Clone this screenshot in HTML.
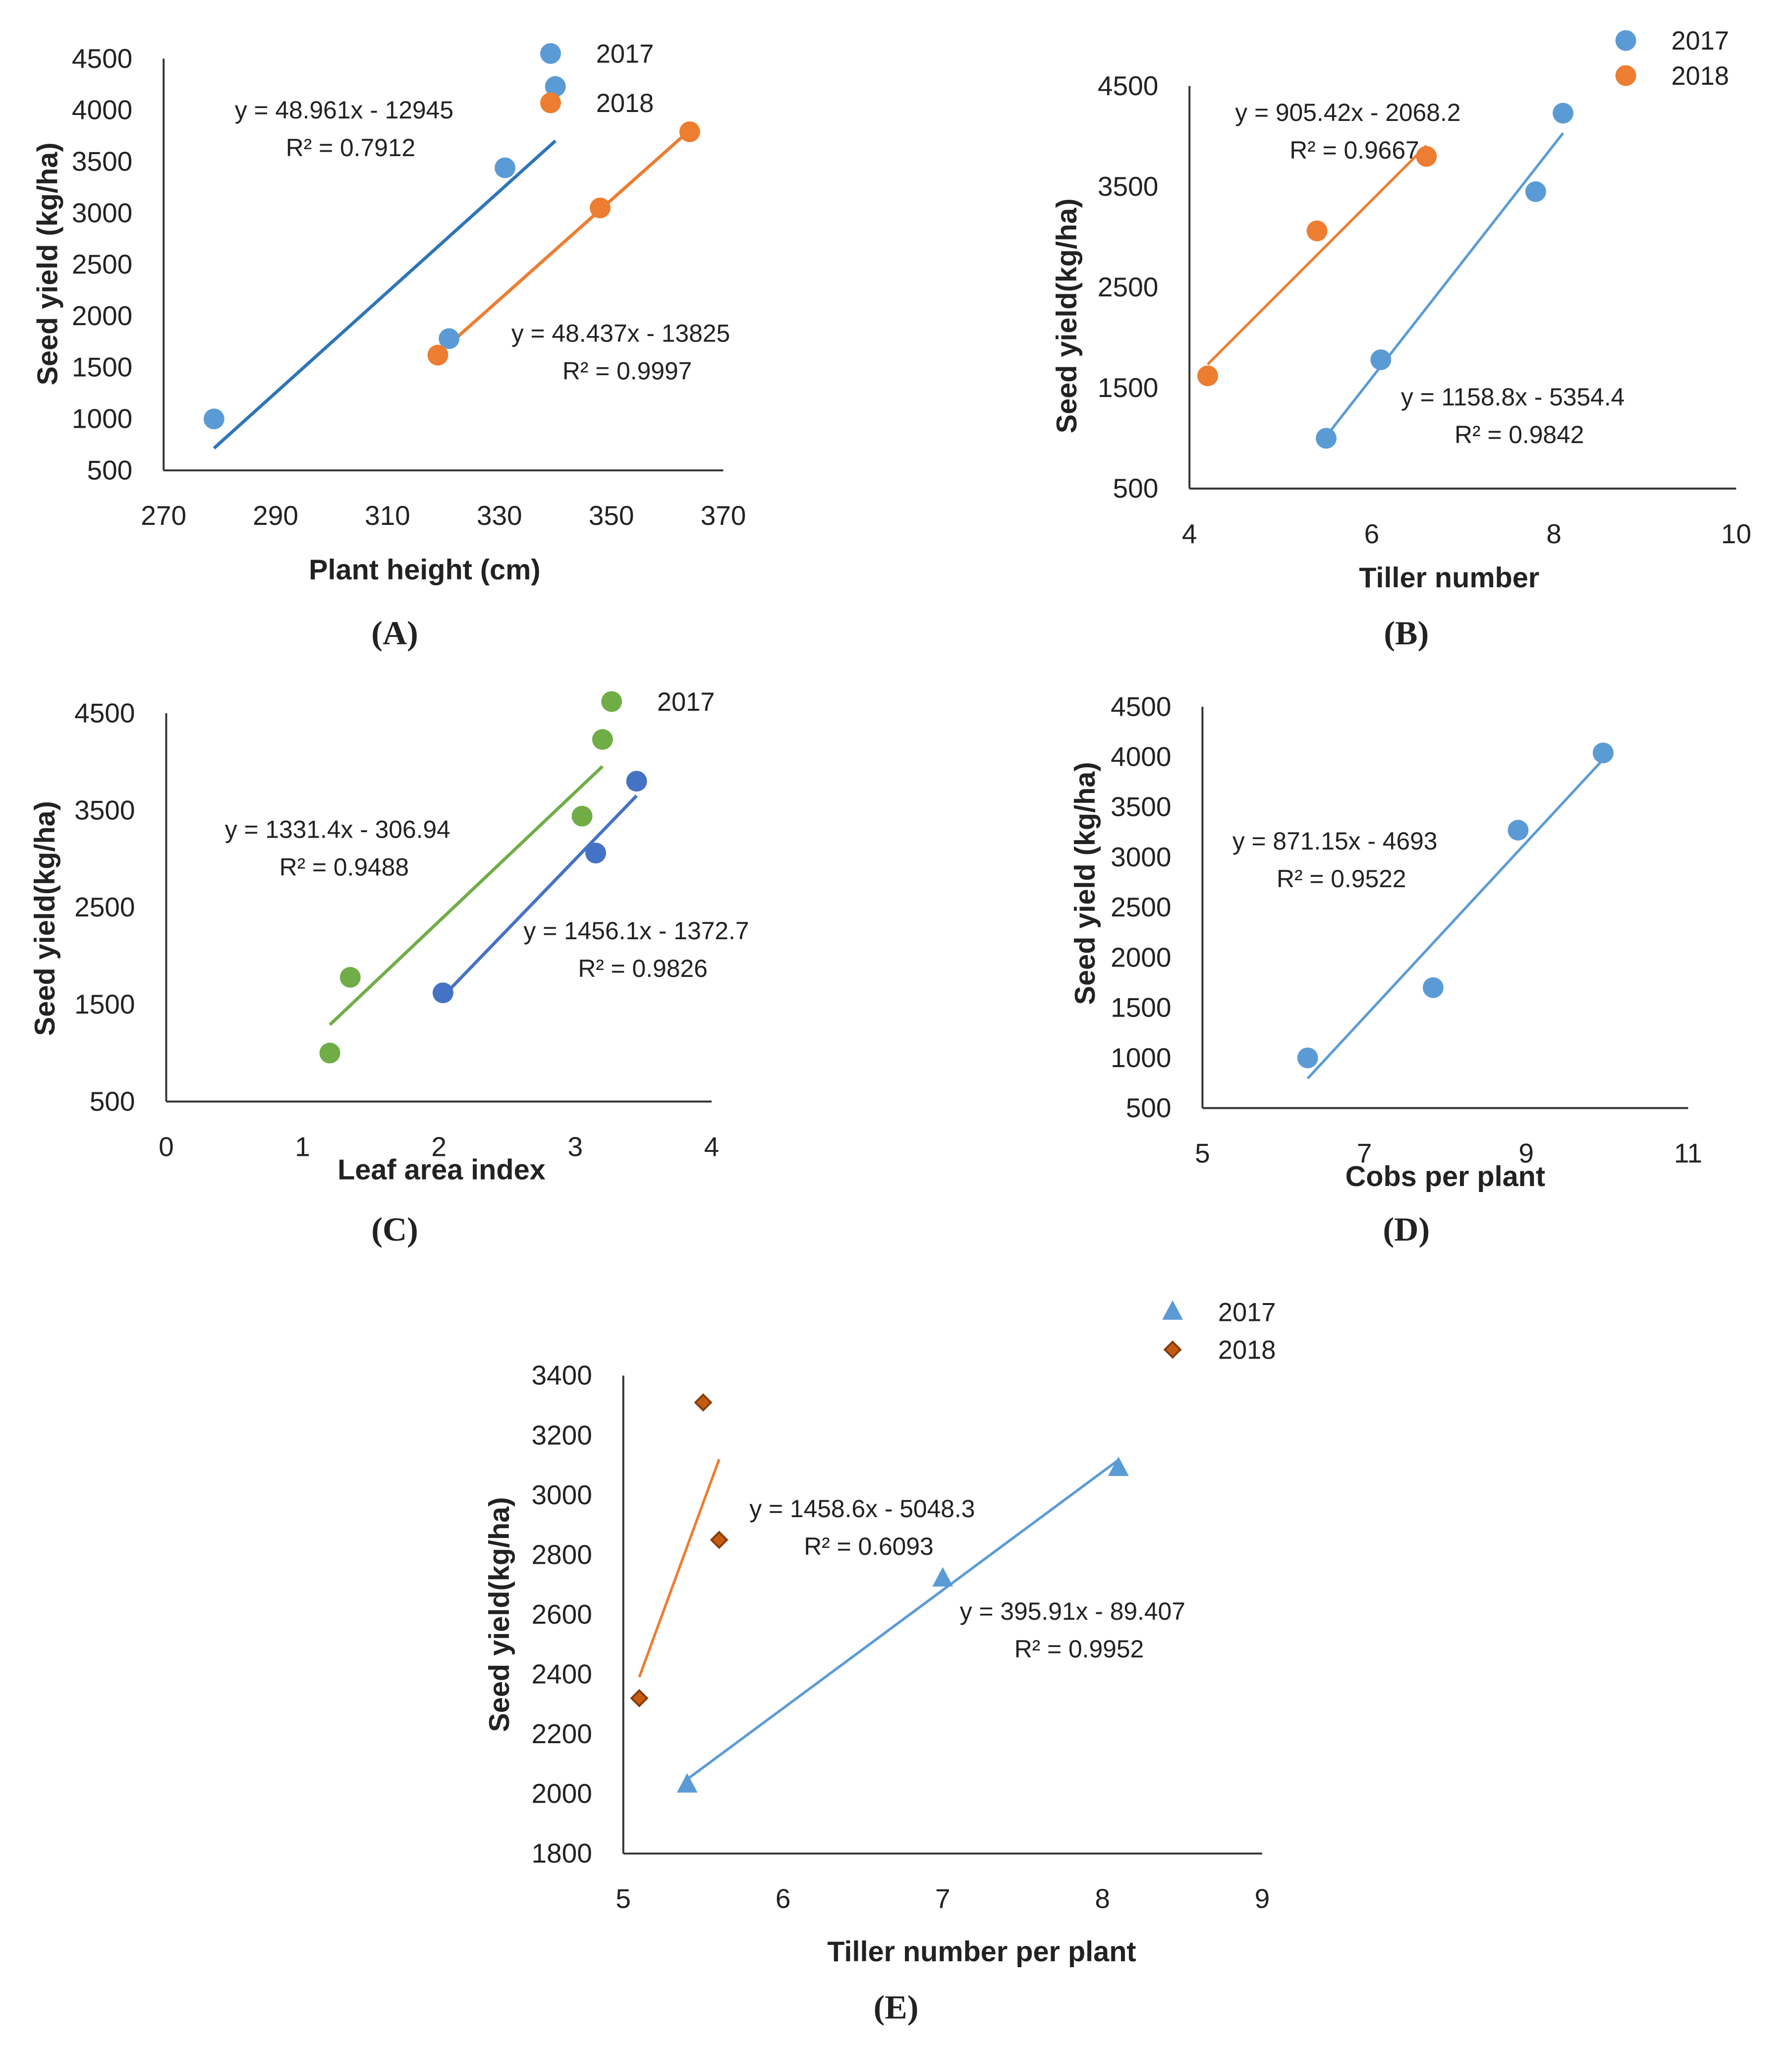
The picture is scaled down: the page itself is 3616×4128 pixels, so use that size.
<!DOCTYPE html>
<html><head><meta charset="utf-8"><style>
html,body{margin:0;padding:0;background:#fff}
svg{display:block}
text{font-family:"Liberation Sans",sans-serif;fill:#222}
</style></head><body>
<svg id="c" width="3616" height="4128" viewBox="0 0 1380 1575" xmlns="http://www.w3.org/2000/svg"></svg>
<script>
// Panel A data
const aX17=[279,321,331,340], aY17=[1000,1780,3440,4230];
const aX18=[319,348,364], aY18=[1620,3050,3790];
const aXTicks=[270,290,310,330,350,370], aYTicks=[500,1000,1500,2000,2500,3000,3500,4000,4500];
// Panel B data
const bX17=[5.5,6.1,7.8,8.1], bY17=[1000,1780,3450,4230];
const bX18=[4.2,5.4,6.6], bY18=[1620,3060,3800];
const bXTicks=[4,6,8,10], bYTicks=[500,1500,2500,3500,4500];
// Panel C data
const cX17=[1.2,1.35,3.05,3.2], cY17=[1000,1780,3440,4230];
const cX18=[2.03,3.15,3.45], cY18=[1620,3060,3800];
const cXTicks=[0,1,2,3,4], cYTicks=[500,1500,2500,3500,4500];
// Panel D data
const dX=[6.3,7.85,8.9,9.95], dY=[1000,1700,3270,4040];
const dXTicks=[5,7,9,11], dYTicks=[500,1000,1500,2000,2500,3000,3500,4000,4500];
// Panel E data
const eX17=[5.4,7.0,8.1], eY17=[2030,2720,3090];
const eX18=[5.1,5.6,5.5], eY18=[2320,2850,3310];
const eXTicks=[5,6,7,8,9], eYTicks=[1800,2000,2200,2400,2600,2800,3000,3200,3400];

const svg=document.getElementById('c');
const NS='http://www.w3.org/2000/svg';
function mk(tag,attrs,parent){const e=document.createElementNS(NS,tag);for(const k in attrs)e.setAttribute(k,attrs[k]);(parent||svg).appendChild(e);return e;}
function txt(s,x,y,opt,parent){const t=mk('text',{x:x,y:y,'font-size':opt.size||20,'text-anchor':opt.anchor||'middle','font-weight':opt.bold?'bold':'normal'},parent);
 if(opt.rot)t.setAttribute('transform','rotate(-90 '+x+' '+y+')');
 if(opt.serif)t.setAttribute('style','font-family:"Liberation Serif",serif');
 t.textContent=s;return t;}

function panel(id,box,xd,yd,xt,yt){
 const g=mk('g',{});
 
 
 const sx=v=>box.x0+(v-xd[0])/(xd[1]-xd[0])*(box.x1-box.x0);
 const sy=v=>box.y1-(v-yd[0])/(yd[1]-yd[0])*(box.y1-box.y0);
 const ya=mk('line',{x1:box.x0,y1:box.y0,x2:box.x0,y2:box.y1,stroke:'#333','stroke-width':1.5},g);
 
 
 const xa=mk('line',{x1:box.x0,y1:box.y1,x2:box.x1,y2:box.y1,stroke:'#333','stroke-width':1.5},g);
 
 
 xt.forEach(v=>{const t=txt(String(v),sx(v),box.y1+42,{size:21},g);
  
  });
 yt.forEach(v=>{const t=txt(String(v),box.x0-24,sy(v)+7,{size:21,anchor:'end'},g);
  
  });
 return {g,sx,sy};
}
function trend(p,xs,m,b,color,w){
 const x0=Math.min(...xs),x1=Math.max(...xs);
 const l=mk('line',{x1:p.sx(x0),y1:p.sy(m*x0+b),x2:p.sx(x1),y2:p.sy(m*x1+b),stroke:color,'stroke-width':w||2},p.g);
 
 
}
function marker(parent,shape,x,y,color){
 let e;
 if(shape==='circle')e=mk('circle',{cx:x,cy:y,r:8,fill:color},parent);
 else if(shape==='tri')e=mk('polygon',{points:(x)+','+(y-9)+' '+(x-8)+','+(y+6)+' '+(x+8)+','+(y+6),fill:color},parent);
 else e=mk('polygon',{points:x+','+(y-6)+' '+(x+6)+','+y+' '+x+','+(y+6)+' '+(x-6)+','+y,fill:'#c55a11',stroke:'#843c0c','stroke-width':1.5},parent);
 return e;
}
function points(p,xs,ys,shape,color){
 xs.forEach((v,i)=>{const e=marker(p.g,shape,p.sx(v),p.sy(ys[i]),color);
  
  });
}
function legend(p,shape,x,y,color,label){
 const e=marker(p.g,shape,x,y,color);
 
 
 const t=txt(label,x+35,y+7,{size:20,anchor:'start'},p.g);
 
 
}
function eq(p,l1,l2,x,y){
 const a=txt(l1,x,y,{size:19},p.g);
 
 
 const b=txt(l2,x+5,y+29,{size:19},p.g);
 
 
}
function titles(p,xt,xx,xy,yt,yx,yy,lab,lx,ly){
 const a=txt(xt,xx,xy,{size:22,bold:true},p.g);
 
 
 const b=txt(yt,yx,yy,{size:22,bold:true,rot:true},p.g);
 
 
 const c=txt(lab,lx,ly,{size:26,serif:true,bold:true},p.g);
 
 
}
const BL='#5b9bd5',OR='#ed7d31',GR='#70ad47',DB='#4472c4';

// A
let p=panel('a',{x0:126,x1:557,y0:45,y1:362},[270,370],[500,4500],aXTicks,aYTicks);
trend(p,aX17,48.961,-12945,'#2e75b6',2.5);trend(p,aX18,48.437,-13825,OR,2.5);
points(p,aX17,aY17,'circle',BL);points(p,aX18,aY18,'circle',OR);
legend(p,'circle',424,41,BL,'2017');legend(p,'circle',424,79,OR,'2018');
eq(p,'y = 48.961x - 12945','R² = 0.7912',265,91);
eq(p,'y = 48.437x - 13825','R² = 0.9997',478,263);
titles(p,'Plant height (cm)',327,446,'Seed yield (kg/ha)',44,203,'(A)',304,496);

// B
p=panel('b',{x0:916,x1:1337,y0:66,y1:376},[4,10],[500,4500],bXTicks,bYTicks);
trend(p,bX17,1158.8,-5354.4,BL,2);trend(p,bX18,905.42,-2068.2,OR,2);
points(p,bX17,bY17,'circle',BL);points(p,bX18,bY18,'circle',OR);
legend(p,'circle',1252,31,BL,'2017');legend(p,'circle',1252,58,OR,'2018');
eq(p,'y = 905.42x - 2068.2','R² = 0.9667',1038,93);
eq(p,'y = 1158.8x - 5354.4','R² = 0.9842',1165,312);
titles(p,'Tiller number',1116,452,'Seed yield(kg/ha)',829,243,'(B)',1083,496);

// C
p=panel('c',{x0:128,x1:548,y0:549,y1:848},[0,4],[500,4500],cXTicks,cYTicks);
trend(p,cX17,1331.4,-306.94,GR,2.5);trend(p,cX18,1456.1,-1372.7,DB,2.5);
points(p,cX17,cY17,'circle',GR);points(p,cX18,cY18,'circle',DB);
legend(p,'circle',471,540,GR,'2017');
eq(p,'y = 1331.4x - 306.94','R² = 0.9488',260,645);
eq(p,'y = 1456.1x - 1372.7','R² = 0.9826',490,723);
titles(p,'Leaf area index',340,908,'Seed yield(kg/ha)',42,707,'(C)',304,955);

// D
p=panel('d',{x0:926,x1:1300,y0:544,y1:853},[5,11],[500,4500],dXTicks,dYTicks);
trend(p,dX,871.15,-4693,BL,2);
points(p,dX,dY,'circle',BL);
eq(p,'y = 871.15x - 4693','R² = 0.9522',1028,654);
titles(p,'Cobs per plant',1113,913,'Seed yield (kg/ha)',843,680,'(D)',1083,955);

// E
p=panel('e',{x0:480,x1:972,y0:1059,y1:1427},[5,9],[1800,3400],eXTicks,eYTicks);
trend(p,eX17,395.91,-89.407,BL,2);trend(p,eX18,1458.6,-5048.3,OR,2);
points(p,eX17,eY17,'tri',BL);points(p,eX18,eY18,'dia',OR);
legend(p,'tri',903,1010,BL,'2017');legend(p,'dia',903,1039,OR,'2018');
eq(p,'y = 1458.6x - 5048.3','R² = 0.6093',664,1168);
eq(p,'y = 395.91x - 89.407','R² = 0.9952',826,1247);
titles(p,'Tiller number per plant',756,1510,'Seed yield(kg/ha)',392,1243,'(E)',690,1554);
</script>
</body></html>
